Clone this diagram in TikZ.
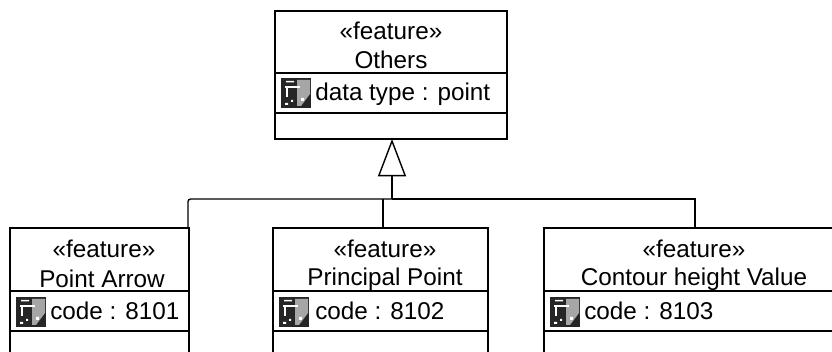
\documentclass[tikz,border=0pt]{standalone}
\usepackage{fontspec}
\setmainfont{Liberation Sans}
\usetikzlibrary{arrows.meta}
\newcommand{\umlicon}[1]{%
  \fill[black!85] (#1) rectangle ++(30,30);
  \fill[black!35] ($(#1)+(16,2)$) -- ++(13,0) -- ++(0,14) -- ++(-9,12) -- ++(-4,0) -- cycle;
  \draw[white,line width=1.2pt] ($(#1)+(4,9)$) -- ++(15,0) ($(#1)+(6,9)$) -- ++(0,10);
  \fill[white] ($(#1)+(5,3)$) rectangle ++(8,1.5) ($(#1)+(20,20)$) rectangle ++(3,3) ($(#1)+(4,25)$) rectangle ++(3,2) ($(#1)+(10,22)$) rectangle ++(2,2);
}
\usetikzlibrary{calc}
\tikzset{
  x=0.75pt,y=-0.75pt,
  umlbox/.style={draw=black,line width=1.05pt,rectangle,inner sep=0pt,outer sep=0pt},
  uml/.style={line width=1.05pt,draw=black},
  lbl/.style={font=\fontsize{18.2pt}{22pt}\selectfont,inner sep=0pt,text=black},
  attr/.style={lbl,anchor=base west},
}
\begin{document}
\begin{tikzpicture}
\useasboundingbox (0,0) rectangle (832,352);
\clip (0,0) rectangle (832,352);
% boxes
\node[umlbox,minimum width=174pt,minimum height=96pt] (others) at (391,75) {};
\node[umlbox,minimum width=134.25pt,minimum height=105pt] (arrow) at (99.5,298) {};
\node[umlbox,minimum width=161.25pt,minimum height=105pt] (principal) at (380.5,298) {};
\node[umlbox,minimum width=240pt,minimum height=105pt] (contour) at (704,298) {};
% dividers
\draw[uml] (others.west |- 0,73) -- (others.east |- 0,73);
\draw[uml] (others.west |- 0,113) -- (others.east |- 0,113);
\foreach \b in {arrow,principal,contour}{
  \draw[uml] (\b.west |- 0,291) -- (\b.east |- 0,291);
  \draw[uml] (\b.west |- 0,331) -- (\b.east |- 0,331);
}
% texts
\node[lbl] (t1) at (391,31) {<<feature>>};
\node[lbl] (t2) at (391,60) {Others};
\umlicon{281,78}
\node[attr] (t3) at (315,101) {data type : point};
\node[lbl] (a1) at (104,249) {<<feature>>};
\node[lbl] (a2) at (102,279) {Point Arrow};
\umlicon{16,297}
\node[attr] (a3) at (50,320) {code : 8101};
\node[lbl] (b1) at (385,249) {<<feature>>};
\node[lbl] (b2) at (385,279) {Principal Point};
\umlicon{279,297}
\node[attr] (b3) at (315,320) {code : 8102};
\node[lbl] (c1) at (694,249) {<<feature>>};
\node[lbl] (c2) at (694,279) {Contour height Value};
\umlicon{550,297}
\node[attr] (c3) at (584,320) {code : 8103};
% connectors
\coordinate (jn) at (392,199);
\coordinate (pa) at (383,228);
\coordinate (ca) at (695,228);
\draw[uml,-{Triangle[open,length=28pt,width=21pt,line width=1.05pt]}] (jn) -- (jn |- others.south);
\draw[uml,rounded corners=2pt] (arrow.north east) ++(-1,0) |- (jn);
\draw[uml] (jn) -| (ca);
\draw[uml] (pa) -- (pa |- jn);
\end{tikzpicture}
\end{document}
